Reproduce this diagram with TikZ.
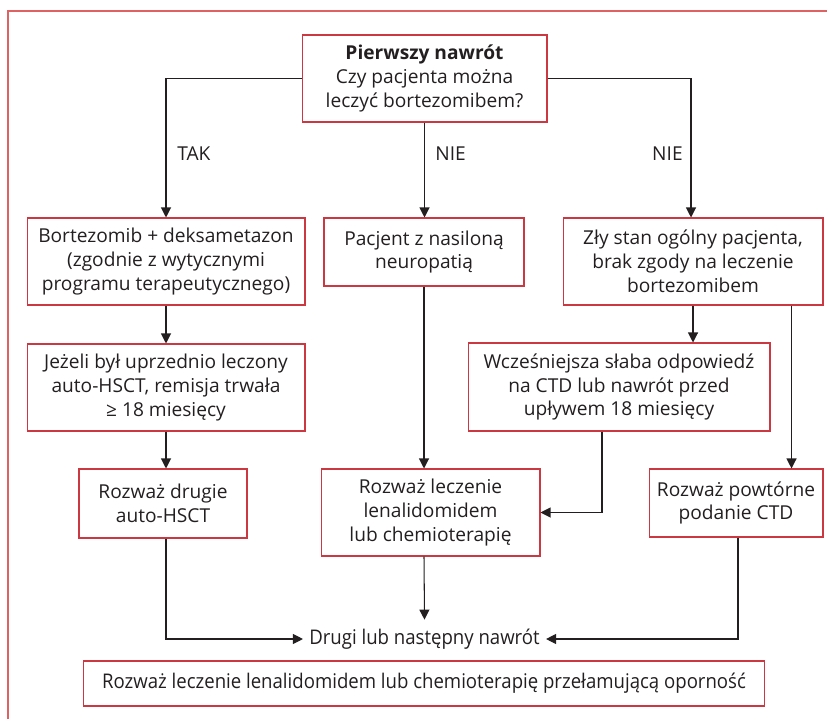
\documentclass[tikz,border=0pt]{standalone}
\usepackage{fontspec}
\setmainfont{Open Sans}
\newfontfamily\narrowfont[FakeStretch=0.92]{Open Sans}
\usetikzlibrary{arrows.meta}

\definecolor{boxred}{RGB}{204,56,66}
\definecolor{framered}{RGB}{222,98,98}
\definecolor{inkgray}{RGB}{35,31,32}

\tikzset{
  stepbox/.style={draw=boxred, line width=0.6pt, align=center, inner sep=0pt,
    text=inkgray, font=\fontsize{10.9}{13.6}\selectfont},
  arr/.style={draw=inkgray, line width=0.6pt, -{Triangle[length=0.2cm,width=0.2cm]}},
  lbl/.style={text=inkgray, inner sep=0pt, font=\fontsize{10.9}{13.6}\selectfont}
}

\begin{document}
\begin{tikzpicture}[x=0.02cm, y=-0.02cm]
			%%%%% START %%%%%
			\useasboundingbox (0,0) rectangle (827,719);
			
			\draw[framered, line width=0.6pt] (8,719) -- (8,11) -- (827,11);
			
			\node[stepbox, minimum width=4.9cm, minimum height=1.74cm] (first) at (424.5,78.5)
				{\textbf{Pierwszy nawrót}\\Czy pacjenta można\\leczyć bortezomibem?};
			
			\node[stepbox, minimum width=5.56cm, minimum height=1.74cm] (bort) at (166,261.5)
				{Bortezomib + deksametazon\\(zgodnie z wytycznymi\\programu terapeutycznego)};
			\node[stepbox, minimum width=4cm, minimum height=1.36cm] (neuro) at (424,252)
				{Pacjent z nasiloną\\neuropatią};
			\node[stepbox, minimum width=5.2cm, minimum height=1.74cm] (poor) at (693,261.5)
				{Zły stan ogólny pacjenta,\\brak zgody na leczenie\\bortezomibem};
			
			\node[stepbox, minimum width=5.56cm, minimum height=1.74cm] (prior) at (166,387.5)
				{Jeżeli był uprzednio leczony\\auto-HSCT, remisja trwała\\≥ 18 miesięcy};
			\node[stepbox, minimum width=6.04cm, minimum height=1.76cm] (ctd) at (619,387)
				{Wcześniejsza słaba odpowiedź\\na CTD lub nawrót przed\\upływem 18 miesięcy};
			
			\node[stepbox, minimum width=3.36cm, minimum height=1.38cm] (auto) at (163,503.5)
				{Rozważ drugie\\auto-HSCT};
			\node[stepbox, minimum width=4.38cm, minimum height=1.74cm] (lena) at (430.5,512.5)
				{Rozważ leczenie\\lenalidomidem\\lub chemioterapię};
			\node[stepbox, minimum width=3.48cm, minimum height=1.36cm] (again) at (736,503)
				{Rozważ powtórne\\podanie CTD};
			
			\node[lbl, inner xsep=0.12cm, minimum height=0.76cm] (second) at (424.5,639)
				{\fontsize{11.5}{13.6}\narrowfont Drugi lub następny nawrót};
			\node[stepbox, minimum width=13.64cm, minimum height=0.9cm] (final) at (424,683.5)
				{\fontsize{11.5}{13.6}\narrowfont Rozważ leczenie lenalidomidem lub chemioterapię przełamującą oporność};
			
			\node[lbl, anchor=west] (yes) at (177,154) {TAK};
			\node[lbl, anchor=west] (no1) at (435,154) {NIE};
			\node[lbl, anchor=east] (no2) at (683,154) {NIE};
			
			\draw[arr] (first.west) -| (bort.north);
			\draw[arr] (first.south) -- (first.south |- neuro.north);
			\draw[arr] (first.east) -| ([xshift=-0.04cm]poor.north);
			
			\draw[arr] (bort.south) -- (prior.north);
			\draw[arr] (prior.south) -- (prior.south |- auto.north);
			\draw[arr] (neuro.south) -- (neuro.south |- lena.north);
			\draw[arr] (poor.south) -- (poor.south |- ctd.north);
			\draw[arr] ([xshift=-0.64cm]poor.south east) -- ([xshift=-0.64cm]poor.south east |- again.north);
			\draw[arr] ([xshift=-0.34cm]ctd.south) |- (lena.east);
			
			\draw[arr] (auto.south -| prior.south) |- (second.west);
			\draw[arr] (lena.south -| neuro.south) -- (second.north);
			\draw[arr] ([xshift=0.04cm]again.south) |- (second.east);
			
			%%%%% END %%%%%
		\end{tikzpicture}
\end{document}
